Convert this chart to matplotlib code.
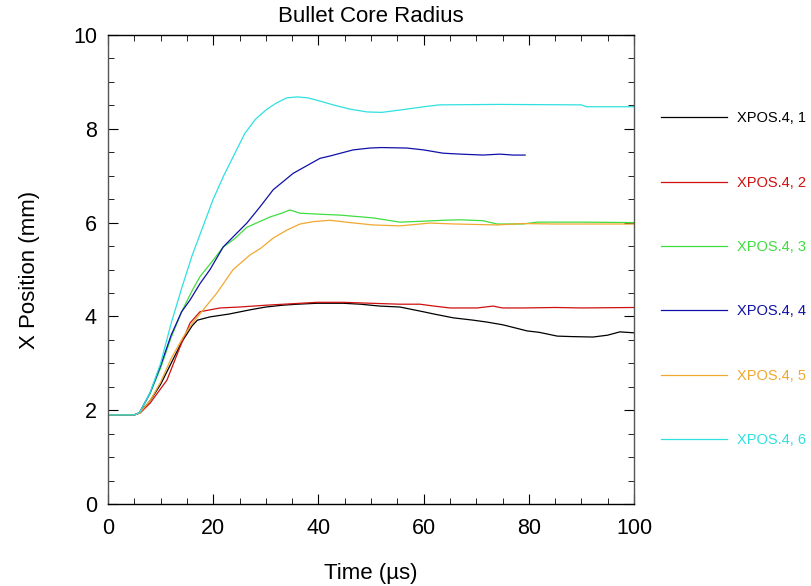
import matplotlib
matplotlib.use("Agg")
import matplotlib.pyplot as plt
from matplotlib.ticker import MultipleLocator

plt.rcParams['font.family'] = ['Liberation Sans', 'DejaVu Sans']

# time (us) and core radius (mm) for each probe
t1 = [0, 5, 6, 8, 10, 12, 14, 16, 17, 19.4, 23, 27, 30, 33.3, 36, 39.7, 44.7, 48, 51.7, 55.5, 59.9, 62, 65.6, 69.4, 72, 75.1, 79.7, 82, 85.4, 88, 92.2, 95, 97.3, 100]
x1 = [1.9, 1.9, 1.94, 2.2, 2.55, 3.0, 3.45, 3.8, 3.92, 3.99, 4.05, 4.14, 4.2, 4.24, 4.26, 4.28, 4.28, 4.26, 4.22, 4.2, 4.1, 4.05, 3.97, 3.92, 3.88, 3.82, 3.69, 3.66, 3.58, 3.57, 3.56, 3.6, 3.67, 3.65]

t2 = [0, 5, 6.1, 8, 11.2, 13.7, 15.6, 17.5, 21.3, 25, 30.2, 35, 39.7, 44.7, 50, 55.5, 59.3, 62, 65, 70.2, 73.2, 75, 78.9, 85, 90, 100]
x2 = [1.9, 1.9, 1.94, 2.15, 2.64, 3.35, 3.86, 4.1, 4.18, 4.2, 4.24, 4.27, 4.3, 4.3, 4.28, 4.26, 4.26, 4.22, 4.18, 4.18, 4.22, 4.18, 4.18, 4.19, 4.18, 4.19]

t3 = [0, 5, 6, 8, 10, 12, 14, 16, 17.5, 20, 21.9, 24, 26.4, 28, 30.8, 33, 34.6, 36.5, 40, 44.1, 50.4, 55.5, 60, 63.7, 67, 71.3, 74, 78.9, 81.6, 90, 100]
x3 = [1.9, 1.9, 1.95, 2.35, 2.9, 3.55, 4.1, 4.55, 4.85, 5.2, 5.48, 5.65, 5.9, 5.98, 6.12, 6.2, 6.27, 6.2, 6.18, 6.16, 6.1, 6.01, 6.03, 6.05, 6.06, 6.04, 5.97, 5.97, 6.01, 6.01, 6.0]

t4 = [0, 5, 6, 8, 10, 12, 14, 15.6, 17.5, 19.4, 21.9, 24, 26.4, 29, 31.4, 35.2, 40.3, 42.2, 46.6, 49.8, 52, 56.8, 60, 63.7, 67, 71.3, 74.5, 77, 79.3]
x4 = [1.9, 1.9, 1.95, 2.37, 2.95, 3.6, 4.1, 4.35, 4.7, 5.0, 5.48, 5.72, 5.99, 6.35, 6.7, 7.05, 7.37, 7.42, 7.55, 7.59, 7.6, 7.59, 7.55, 7.48, 7.46, 7.44, 7.46, 7.44, 7.44]

t5 = [0, 5, 6, 8, 10, 12, 14.3, 16, 18.1, 20.7, 23.8, 27, 29, 31.4, 34, 36.5, 39, 42.2, 46, 50.4, 55.5, 57.4, 61.2, 66, 74, 78.9, 85, 100]
x5 = [1.9, 1.9, 1.94, 2.2, 2.6, 3.1, 3.56, 3.85, 4.14, 4.5, 5.0, 5.31, 5.45, 5.67, 5.84, 5.97, 6.02, 6.05, 6.0, 5.95, 5.93, 5.95, 5.99, 5.97, 5.95, 5.98, 5.97, 5.97]

t6 = [0, 5, 6, 8, 10, 12, 14, 16, 18, 20, 22, 24, 26, 28, 30, 32, 34, 36, 38, 40, 42.8, 46, 49.2, 52, 55.5, 60, 63, 74, 90, 91, 100]
x6 = [1.9, 1.9, 1.95, 2.37, 3.0, 3.85, 4.6, 5.3, 5.9, 6.5, 7.0, 7.45, 7.9, 8.2, 8.4, 8.55, 8.66, 8.68, 8.66, 8.6, 8.51, 8.42, 8.36, 8.35, 8.4, 8.47, 8.51, 8.52, 8.51, 8.47, 8.47]

labels = ['XPOS.4, 1', 'XPOS.4, 2', 'XPOS.4, 3', 'XPOS.4, 4', 'XPOS.4, 5', 'XPOS.4, 6']
colors = ['#000000', '#d01010', '#40dd40', '#1010a8', '#f0a830', '#30e0e0']
series = [(t1, x1), (t2, x2), (t3, x3), (t4, x4), (t5, x5), (t6, x6)]

fig = plt.figure(figsize=(8.11, 5.86), dpi=100)
ax = fig.add_axes([108 / 811, 1 - 504 / 586, 526 / 811, 469 / 586])

for (t, x), lab, c in zip(series, labels, colors):
    ax.plot(t, x, color=c, lw=0.9, label=lab)

ax.set_xlim(0, 100)
ax.set_ylim(0, 10)
ax.xaxis.set_major_locator(MultipleLocator(20))
ax.xaxis.set_minor_locator(MultipleLocator(5))
ax.yaxis.set_major_locator(MultipleLocator(2))
ax.yaxis.set_minor_locator(MultipleLocator(0.5))
ax.tick_params(which='both', direction='in', top=True, right=True, labelsize=15.5)
ax.tick_params(which='major', length=7)
ax.tick_params(which='minor', length=4)
ax.tick_params(axis='x', which='major', pad=10)
ax.tick_params(axis='y', which='major', pad=8)
for s in ax.spines.values():
    s.set_linewidth(1.0)
    s.set_color('#555555')
ax.spines['bottom'].set_color('black')
ax.spines['top'].set_color('black')

ax.set_xlabel('Time (µs)', fontsize=16, labelpad=17)
ax.set_ylabel('X Position (mm)', fontsize=16, labelpad=24)
ax.set_title('Bullet Core Radius', fontsize=16, pad=9)

# legend sits outside the axes on the right, text coloured like its line
leg = ax.legend(loc='upper left', bbox_to_anchor=(1.051, 0.837), frameon=False,
                fontsize=10.5, handlelength=4.53, handletextpad=0.72,
                labelspacing=3.45, borderpad=0, borderaxespad=0,
                labelcolor='linecolor')

fig.savefig('out.png', dpi=100)
